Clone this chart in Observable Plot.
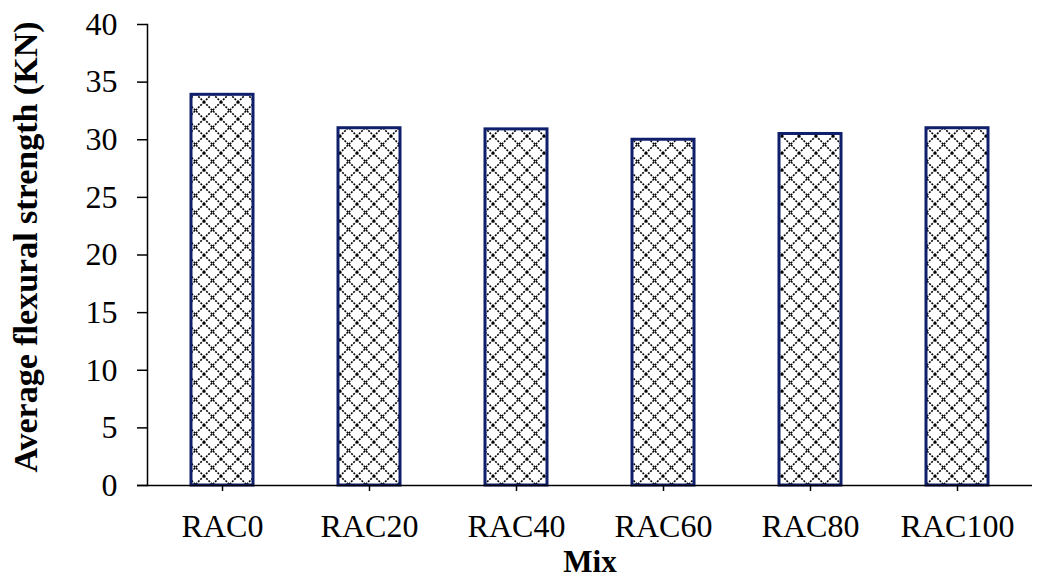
<!DOCTYPE html>
<html>
<head>
<meta charset="utf-8">
<script src="https://cdn.jsdelivr.net/npm/d3@7"></script>
<script src="https://cdn.jsdelivr.net/npm/@observablehq/plot@0.6"></script>
<style>
  html, body { margin: 0; padding: 0; background: #fff; }
</style>
</head>
<body>
<div id="chart"></div>
<script>
const mixes = ["RAC0", "RAC20", "RAC40", "RAC60", "RAC80", "RAC100"];
const strength = [33.9, 31.0, 30.9, 30.0, 30.5, 31.0];
const yTicks = [0, 5, 10, 15, 20, 25, 30, 35, 40];
const yLabel = "Average flexural strength (KN)";
const xLabel = "Mix";

const data = mixes.map((m, i) => ({mix: m, value: strength[i]}));

const chart = Plot.plot({
  width: 1041,
  height: 578,
  marginLeft: 147,
  marginRight: 9,
  marginTop: 24,
  marginBottom: 93,
  style: {fontFamily: "'Liberation Serif', 'Times New Roman', serif", fontSize: "32px", color: "#000", background: "#fff"},
  x: {domain: mixes, paddingInner: 0.58, paddingOuter: 0.29, label: null},
  y: {domain: [0, 40], label: null},
  marks: [
    Plot.barY(data, {x: "mix", y: "value", fill: "url(#crosshatch)", stroke: "#0f1f6b", strokeWidth: 3}),
    Plot.ruleY([0], {stroke: "#000", strokeWidth: 1.5, insetLeft: -10}),
    Plot.frame({anchor: "left", stroke: "#000", strokeWidth: 1.5}),
    Plot.axisY({ticks: yTicks, tickSize: 10, tickPadding: 20, label: null, tickFormat: d => String(d), stroke: "#000", strokeWidth: 1.5}),
    Plot.axisX({tickSize: 6, tickPadding: 23, label: null, stroke: "#000", strokeWidth: 1.5}),
    Plot.text([yLabel], {frameAnchor: "left", textAnchor: "middle", lineAnchor: "middle", rotate: -90, dx: -121, dy: -8, fontWeight: "bold", fontSize: 34, fill: "#000"}),
    Plot.text([xLabel], {frameAnchor: "bottom", textAnchor: "middle", lineAnchor: "middle", dy: 77, fontWeight: "bold", fontSize: 31, fill: "#000"})
  ]
});

const svg = d3.select(chart);
const defs = svg.insert("defs", ":first-child");
const pat = defs.append("pattern")
  .attr("id", "crosshatch")
  .attr("patternUnits", "userSpaceOnUse")
  .attr("width", 17)
  .attr("height", 17);
pat.append("rect").attr("width", 17).attr("height", 17).attr("fill", "#fff");
pat.append("path")
  .attr("d", "M0,0L17,17M17,0L0,17M-1,16L1,18M16,-1L18,1")
  .attr("stroke", "#000")
  .attr("stroke-width", 1.6)
  .attr("stroke-dasharray", "2,1.2")
  .attr("fill", "none");

document.getElementById("chart").appendChild(chart);
</script>
</body>
</html>
